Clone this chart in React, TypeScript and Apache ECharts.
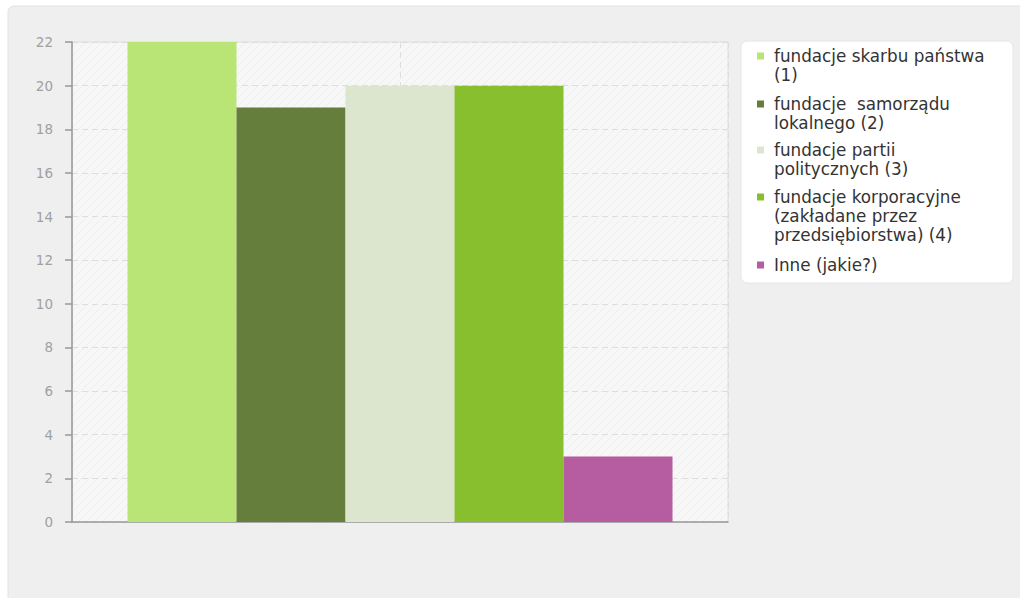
import React, { useEffect, useRef } from "react";
import * as echarts from "echarts";

const categories = [""];
const seriesNames = [
  "fundacje skarbu państwa\n(1)",
  "fundacje  samorządu\nlokalnego (2)",
  "fundacje partii\npolitycznych (3)",
  "fundacje korporacyjne\n(zakładane przez\nprzedsiębiorstwa) (4)",
  "Inne (jakie?)",
];
const seriesValues = [22, 19, 20, 20, 3];
const seriesColors = ["#b9e576", "#657e3c", "#dce6cf", "#88bf2f", "#b65ca0"];
const legendTops = [46.5, 94.5, 140.5, 187.5, 255.5];

const LINE_H = 19;

function makeHatch(): HTMLCanvasElement {
  const c = document.createElement("canvas");
  c.width = 8;
  c.height = 8;
  const ctx = c.getContext("2d")!;
  ctx.fillStyle = "#f7f7f7";
  ctx.fillRect(0, 0, 8, 8);
  ctx.strokeStyle = "#ededed";
  ctx.lineWidth = 1;
  ctx.beginPath();
  ctx.moveTo(0, 8);
  ctx.lineTo(8, 0);
  ctx.moveTo(-4, 4);
  ctx.lineTo(4, -4);
  ctx.moveTo(4, 12);
  ctx.lineTo(12, 4);
  ctx.stroke();
  return c;
}

export default function App() {
  const ref = useRef<HTMLDivElement>(null);
  useEffect(() => {
    if (!ref.current) return;
    const chart = echarts.init(ref.current, undefined, { renderer: "svg" });
    const hatch = makeHatch();
    const legends = seriesNames.map((name, i) => {
      const lines = name.split("\n").length;
      const h = lines * LINE_H;
      return {
        show: true,
        data: [name],
        left: 757,
        top: legendTops[i],
        orient: "vertical",
        icon: `path://M0,0h12M0,6h7v7h-7zM0,${h}h12`,
        itemWidth: 12,
        itemHeight: h,
        itemGap: 0,
        padding: 0,
        selectedMode: false,
        itemStyle: { borderWidth: 0 },
        textStyle: {
          fontFamily: "DejaVu Sans",
          fontSize: 16.8,
          color: "#333",
          lineHeight: LINE_H,
        },
      };
    });
    chart.setOption({
      animation: false,
      backgroundColor: "#ffffff",
      graphic: [
        {
          type: "rect",
          z: -10,
          silent: true,
          shape: { x: 8, y: 6, width: 1030, height: 620, r: 6 },
          style: { fill: "#efefef", stroke: "#e2e2e2", lineWidth: 1 },
        },
        {
          type: "rect",
          z: -5,
          silent: true,
          shape: { x: 741, y: 41, width: 272, height: 242, r: 6 },
          style: { fill: "#ffffff", stroke: "#e6e6e6", lineWidth: 1 },
        },
      ],
      legend: legends,
      grid: {
        left: 72,
        top: 42,
        right: 292,
        bottom: 76,
        show: true,
        backgroundColor: { image: hatch, repeat: "repeat" },
        borderColor: "#dddddd",
        borderWidth: 1,
      },
      xAxis: [
        {
          type: "category",
          data: categories,
          axisLine: { show: true, lineStyle: { color: "#999999", width: 1.5 } },
          axisTick: { show: false },
          axisLabel: { show: false },
          splitLine: { show: false },
        },
        {
          type: "value",
          min: 0,
          max: 2,
          interval: 1,
          position: "bottom",
          axisLine: { show: false },
          axisTick: { show: false },
          axisLabel: { show: false },
          splitLine: { show: true, lineStyle: { color: "#dddddd", type: [6, 4] } },
        },
      ],
      yAxis: {
        type: "value",
        min: 0,
        max: 22,
        interval: 2,
        axisLine: { show: true, lineStyle: { color: "#999999", width: 1.5 } },
        axisTick: { show: true, length: 7, lineStyle: { color: "#999999", width: 1.5 } },
        axisLabel: {
          color: "#a0a0a0",
          fontFamily: "DejaVu Sans",
          fontSize: 13.5,
          margin: 19,
        },
        splitLine: { show: true, lineStyle: { color: "#dddddd", type: [6, 4] } },
      },
      series: seriesNames.map((name, i) => ({
        type: "bar",
        name,
        xAxisIndex: 0,
        data: [seriesValues[i]],
        barWidth: 109,
        barGap: "0%",
        itemStyle: { color: seriesColors[i] },
      })),
    });
    return () => chart.dispose();
  }, []);
  return (
    <div
      ref={ref}
      style={{ position: "fixed", left: 0, top: 0, width: 1020, height: 598 }}
    />
  );
}
